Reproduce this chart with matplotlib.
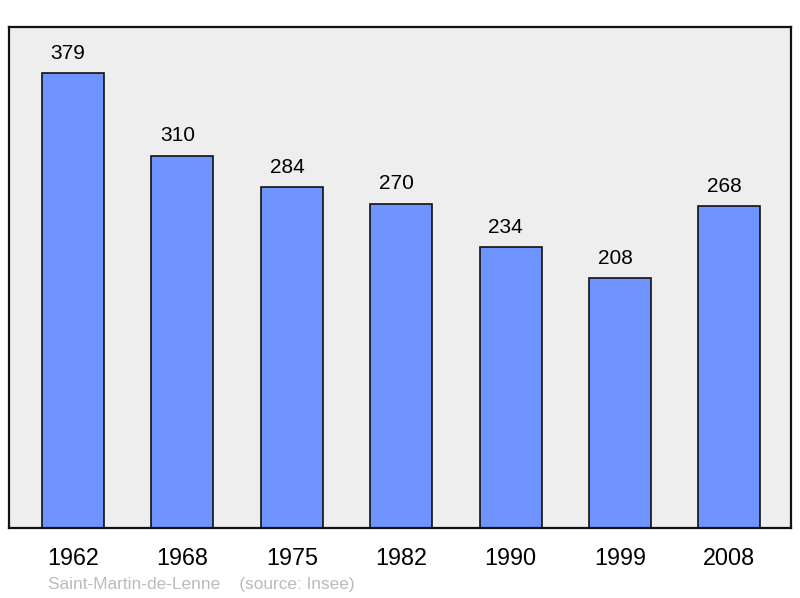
import matplotlib
matplotlib.use("Agg")
import matplotlib.pyplot as plt

plt.rcParams['font.family'] = ['Liberation Sans', 'DejaVu Sans']

years = ['1962', '1968', '1975', '1982', '1990', '1999', '2008']
population = [379, 310, 284, 270, 234, 208, 268]
commune = 'Saint-Martin-de-Lenne'
source = '(source: Insee)'

fig = plt.figure(figsize=(8.0, 5.98), dpi=100)
W, H = 800, 598
ax = fig.add_axes([9 / W, 1 - 528 / H, 782 / W, 501 / H])
ax.set_facecolor('#eeeeee')

x = list(range(len(years)))
ax.bar(x, population, width=0.567, color='#7094ff', edgecolor='#111111',
       linewidth=1.2, zorder=2)
for xi, v in zip(x, population):
    ax.annotate(str(v), (xi, v), xytext=(-3.5, 7.5), textcoords='offset points',
                ha='center', va='bottom', fontsize=15)

ax.set_xlim(-0.585, 6.563)
ax.set_ylim(0, 417.3)
ax.set_yticks([])
ax.set_xticks(x)
ax.set_xticklabels(years, fontsize=16.8)
ax.tick_params(axis='x', length=0, pad=14)
for s in ax.spines.values():
    s.set_linewidth(1.6)
    s.set_color('#111111')

fig.text(48 / W, 1 - 584 / H, commune + '    ' + source, color='#bbbbbb',
         fontsize=12.4, va='center', ha='left')

fig.savefig('out.png', dpi=100)
